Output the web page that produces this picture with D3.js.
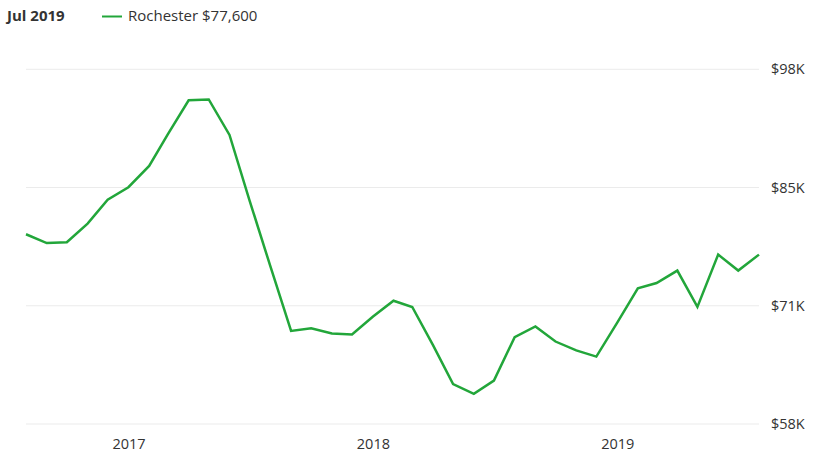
<!DOCTYPE html>
<html>
<head>
<meta charset="utf-8">
<script src="https://cdn.jsdelivr.net/npm/d3@7"></script>
<style>
  html, body { margin: 0; padding: 0; background: #fff; }
  svg { display: block; font-family: "Open Sans", sans-serif; }
</style>
</head>
<body>
<svg id="chart" width="816" height="466"></svg>
<script>
// ---- data ----
const months = [
  "2016-07","2016-08","2016-09","2016-10","2016-11","2016-12",
  "2017-01","2017-02","2017-03","2017-04","2017-05","2017-06",
  "2017-07","2017-08","2017-09","2017-10","2017-11","2017-12",
  "2018-01","2018-02","2018-03","2018-04","2018-05","2018-06",
  "2018-07","2018-08","2018-09","2018-10","2018-11","2018-12",
  "2019-01","2019-02","2019-03","2019-04","2019-05","2019-06",
  "2019-07"
];
const values = [
  79400, 78400, 78500, 80600, 83300, 84700,
  87100, 90700, 94500, 94600, 90600, 83200,
  75800, 68500, 68800, 68200, 68100, 70100,
  71900, 71200, 66900, 62500, 61400, 62900,
  67800, 69000, 67300, 66300, 65600, 69400,
  73300, 73900, 75300, 71200, 77100, 75300,
  77100
];
const yTicks = [58000, 71333, 84667, 98000];
const yTickLabels = ["$58K", "$71K", "$85K", "$98K"];
const xTickYears = [2017, 2018, 2019];
const headerDate = "Jul 2019";
const seriesName = "Rochester";
const headerValue = "$77,600";

// ---- chart ----
const svg = d3.select("#chart");
const green = "#22a63a";
const textColor = "#333";

// month-end dates
const parse = s => { const [y, m] = s.split("-").map(Number); return new Date(y, m, 0); };
const data = months.map((m, i) => ({ date: parse(m), value: values[i] }));

const x = d3.scaleTime()
  .domain(d3.extent(data, d => d.date))
  .range([26, 759]);
const y = d3.scaleLinear()
  .domain([58000, 98000])
  .range([424, 69.3]);

// gridlines
svg.append("g").selectAll("line").data(yTicks).join("line")
  .attr("x1", 26).attr("x2", 759)
  .attr("y1", d => y(d)).attr("y2", d => y(d))
  .attr("stroke", "#ebebeb").attr("stroke-width", 1);

// y labels
svg.append("g").selectAll("text").data(yTicks).join("text")
  .attr("x", 771)
  .attr("y", d => y(d))
  .attr("dy", "0.35em")
  .attr("font-size", 14.5)
  .attr("fill", textColor)
  .text((d, i) => yTickLabels[i]);

// x labels
svg.append("g").selectAll("text").data(xTickYears).join("text")
  .attr("x", d => x(new Date(d, 0, 1)))
  .attr("y", 449)
  .attr("text-anchor", "middle")
  .attr("font-size", 14.5)
  .attr("fill", textColor)
  .text(d => d);

// line
const line = d3.line().x(d => x(d.date)).y(d => y(d.value));
svg.append("path").datum(data)
  .attr("d", line)
  .attr("fill", "none")
  .attr("stroke", green)
  .attr("stroke-width", 2.5)
  .attr("stroke-linejoin", "miter");

// header
svg.append("text")
  .attr("x", 7).attr("y", 21)
  .attr("font-size", 15).attr("font-weight", "bold")
  .attr("fill", textColor)
  .text(headerDate);
svg.append("line")
  .attr("x1", 102).attr("x2", 122)
  .attr("y1", 16.5).attr("y2", 16.5)
  .attr("stroke", green).attr("stroke-width", 2);
svg.append("text")
  .attr("x", 128).attr("y", 21)
  .attr("font-size", 15)
  .attr("fill", textColor)
  .text(seriesName + " " + headerValue);
</script>
</body>
</html>
